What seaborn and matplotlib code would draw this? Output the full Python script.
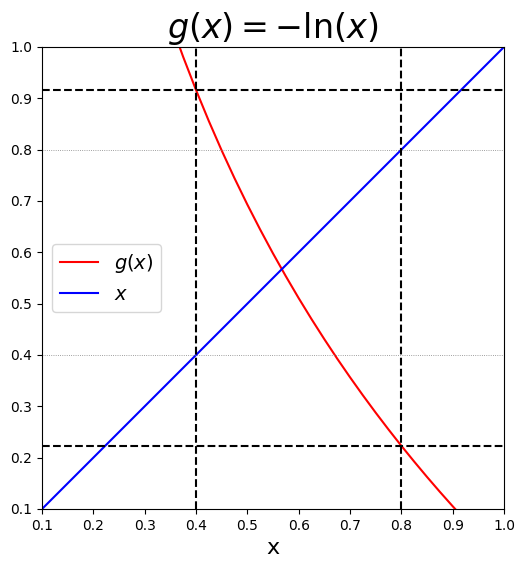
import matplotlib
matplotlib.use("Agg")
import matplotlib.pyplot as plt
import seaborn as sns
import pandas as pd

x_vals = [0.35, 0.375, 0.4, 0.425, 0.45, 0.475, 0.5, 0.525, 0.55, 0.575, 0.6, 0.625, 0.65,
          0.675, 0.7, 0.725, 0.75, 0.775, 0.8, 0.825, 0.85, 0.875, 0.9, 0.925, 0.95]
g_vals = [1.0498, 0.9808, 0.9163, 0.8557, 0.7985, 0.7444, 0.6931, 0.6444, 0.5978, 0.5534,
          0.5108, 0.4700, 0.4308, 0.3930, 0.3567, 0.3216, 0.2877, 0.2549, 0.2231, 0.1924,
          0.1625, 0.1335, 0.1054, 0.0780, 0.0513]
line_x = [0.1, 1.0]
vlines = [0.4, 0.8]
hlines = [0.9163, 0.2231]
grid_y = [0.4, 0.8]
ticks = [0.1, 0.2, 0.3, 0.4, 0.5, 0.6, 0.7, 0.8, 0.9, 1.0]

fig = plt.figure(figsize=(5.24, 5.71), dpi=100)
ax = fig.add_axes([42/524, 1-509/571, 462/524, 462/571])
sns.lineplot(x=x_vals, y=g_vals, color="red", label="$g(x)$", ax=ax)
sns.lineplot(x=line_x, y=line_x, color="blue", label="$x$", ax=ax)
for y in grid_y:
    ax.axhline(y, color="gray", linestyle=":", linewidth=0.6)
for v in vlines:
    ax.axvline(v, color="black", linestyle="--", linewidth=1.5)
for h in hlines:
    ax.axhline(h, color="black", linestyle="--", linewidth=1.5)
ax.set_xlim(0.1, 1.0)
ax.set_ylim(0.1, 1.0)
ax.set_xticks(ticks)
ax.set_yticks(ticks)
ax.set_xticklabels([f"{t:.1f}" for t in ticks])
ax.set_yticklabels([f"{t:.1f}" for t in ticks])
ax.set_xlabel("x", fontsize=16)
ax.set_title(r"$g(x) = -\ln(x)$", fontsize=24)
ax.legend(loc="center left", fontsize=14)
fig.savefig("out.png", dpi=100)
